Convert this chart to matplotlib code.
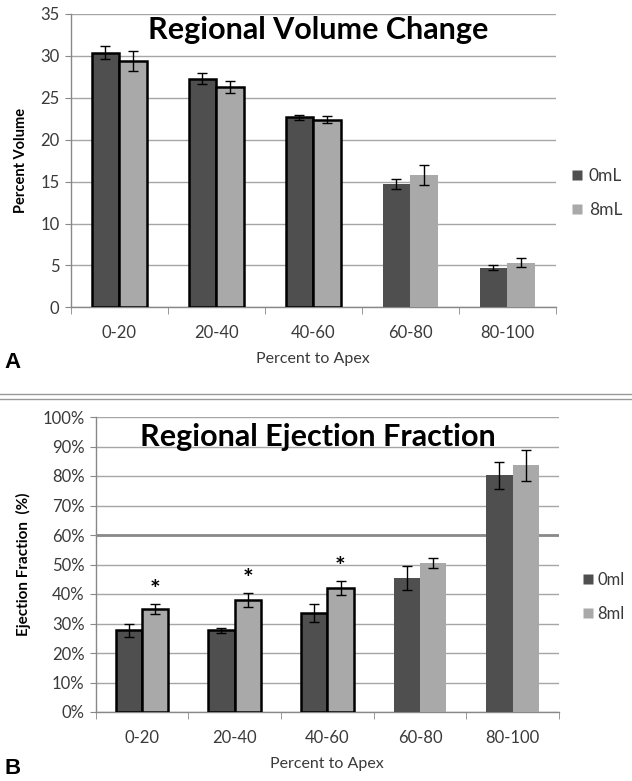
import numpy as np
import matplotlib
matplotlib.use('Agg')
import matplotlib.pyplot as plt
from matplotlib.lines import Line2D

plt.rcParams['font.family'] = ['Lato', 'DejaVu Sans']

# data
regions = ['0-20', '20-40', '40-60', '60-80', '80-100']
regions_b = ['0-20', '20-40', '40-60', '60-80', '80-100']

vol_0 = [30.4, 27.3, 22.7, 14.7, 4.7]
vol_0_err = [0.8, 0.6, 0.3, 0.6, 0.3]
vol_8 = [29.4, 26.3, 22.4, 15.8, 5.3]
vol_8_err = [1.2, 0.7, 0.4, 1.2, 0.55]

ef_0 = [27.7, 27.7, 33.6, 45.5, 80.2]
ef_0_err = [2.2, 0.8, 3.0, 4.0, 4.6]
ef_8 = [34.9, 38.0, 42.0, 50.6, 83.6]
ef_8_err = [1.7, 2.3, 2.4, 1.7, 5.2]
signif = [1, 1, 1, 0, 0]
outlined = [1, 1, 1, 0, 0]

dark = '#4f4f4f'
light = '#a9a9a9'
grid_c = '#a6a6a6'
txt_c = '#3a3a3a'

W, H = 632, 781
fig = plt.figure(figsize=(W/100, H/100), dpi=100)

def box(l, t, r, b):
    return [l/W, 1-b/H, (r-l)/W, (b-t)/H]

def draw_panel(ax, v0, e0, v8, e8, labels, ymax, step):
    x = np.arange(len(labels))
    w = 0.285
    for i in range(len(labels)):
        ec = 'black' if outlined[i] else 'none'
        lw = 1.8 if outlined[i] else 0
        ax.bar(x[i]-w/2, v0[i], w, color=dark, edgecolor=ec, linewidth=lw, zorder=3)
        ax.bar(x[i]+w/2, v8[i], w, color=light, edgecolor=ec, linewidth=lw, zorder=3)
    ax.errorbar(x-w/2, v0, yerr=e0, fmt='none', ecolor='black', elinewidth=1, capsize=3.5, capthick=1, zorder=4)
    ax.errorbar(x+w/2, v8, yerr=e8, fmt='none', ecolor='black', elinewidth=1, capsize=3.5, capthick=1, zorder=4)
    ax.set_xlim(-0.5, len(labels)-0.5)
    ax.set_ylim(0, ymax)
    ax.set_yticks(np.arange(0, ymax+step/2, step))
    ax.yaxis.grid(True, color=grid_c, linewidth=1)
    ax.set_axisbelow(True)
    ax.set_xticks(x)
    ax.set_xticklabels(labels)
    ax.set_xticks(np.arange(-0.5, len(labels), 1), minor=True)
    ax.tick_params(axis='x', which='major', length=0, pad=13, labelsize=12, labelcolor=txt_c)
    ax.tick_params(axis='x', which='minor', length=5, color='#888888', direction='out')
    ax.tick_params(axis='y', length=4, color='#888888', labelsize=12, labelcolor=txt_c, pad=4)
    for s in ['top', 'right']:
        ax.spines[s].set_visible(False)
    for s in ['left', 'bottom']:
        ax.spines[s].set_color('#888888')
        ax.spines[s].set_linewidth(1)
    h0 = Line2D([], [], marker='s', color='none', markerfacecolor=dark, markeredgecolor='none', markersize=7)
    h8 = Line2D([], [], marker='s', color='none', markerfacecolor=light, markeredgecolor='none', markersize=7)
    return x, w, [h0, h8]

# panel A
ax1 = fig.add_axes(box(70.7, 14, 555.7, 307.3))
x, w, hs = draw_panel(ax1, vol_0, vol_0_err, vol_8, vol_8_err, regions, 35, 5)
ax1.set_title('Regional Volume Change', fontsize=22, fontweight='bold', y=0.885, x=0.51)
ax1.set_ylabel('Percent Volume', fontsize=10.5, fontweight='bold', labelpad=9)
ax1.set_xlabel('Percent to Apex', fontsize=11.5, color=txt_c, labelpad=8)
ax1.legend(hs, ['0mL', '8mL'], loc='center left', bbox_to_anchor=(1.0, 0.39), frameon=False,
           handlelength=0.6, handletextpad=0.4, labelspacing=1.0, fontsize=12.5, labelcolor=txt_c)

# panel B
ax2 = fig.add_axes(box(95.6, 417, 559, 712))
x, w, hs = draw_panel(ax2, ef_0, ef_0_err, ef_8, ef_8_err, regions_b, 100, 10)
ax2.axhline(60, color='#8a8a8a', linewidth=2, zorder=1)
ax2.set_yticklabels(['%d%%' % v for v in range(0, 101, 10)])
for i in range(len(regions_b)):
    if signif[i]:
        ax2.text(x[i]+w/2, ef_8[i]+ef_8_err[i]+0.8, '*', ha='center', va='bottom', fontsize=18, fontweight='bold')
ax2.set_title('Regional Ejection Fraction', fontsize=22, fontweight='bold', y=0.875, x=0.48)
ax2.set_ylabel('Ejection Fraction  (%)', fontsize=11, fontweight='bold', labelpad=8)
ax2.set_xlabel('Percent to Apex', fontsize=11.5, color=txt_c, labelpad=8)
ax2.legend(hs, ['0ml', '8ml'], loc='center left', bbox_to_anchor=(1.02, 0.39), frameon=False,
           handlelength=0.6, handletextpad=0.25, labelspacing=1.1, fontsize=12, labelcolor=txt_c)

# separator and panel letters
fig.add_artist(Line2D([0, 1], [1-393.5/H, 1-393.5/H], color='#999999', linewidth=1))
fig.add_artist(Line2D([0, 1], [1-398.5/H, 1-398.5/H], color='#999999', linewidth=1))
fig.text(4/W, 1-362/H, 'A', fontsize=16, fontweight='bold', family='Liberation Sans', va='center')
fig.text(4/W, 1-768/H, 'B', fontsize=16, fontweight='bold', family='Liberation Sans', va='center')

fig.savefig('out.png', dpi=100)
